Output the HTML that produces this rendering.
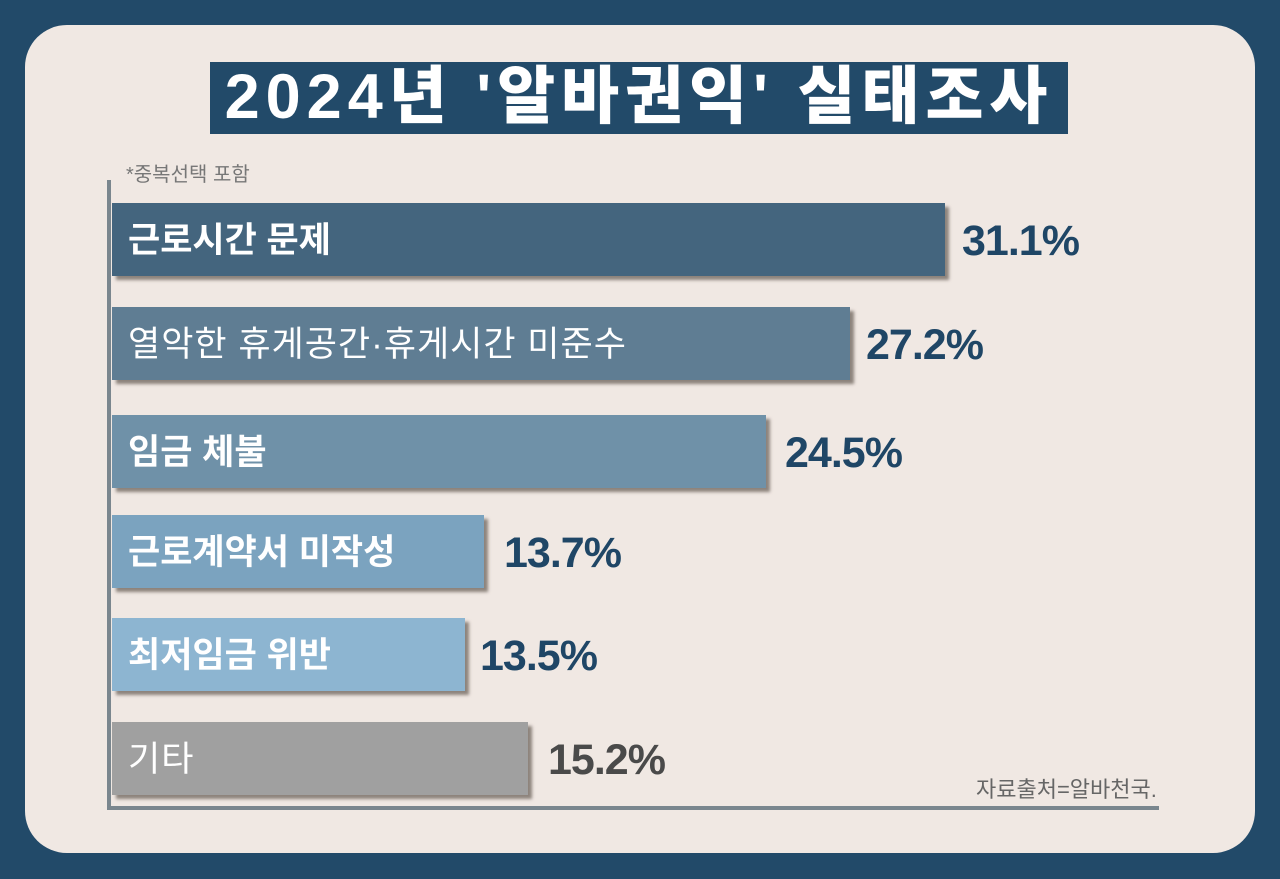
<!DOCTYPE html>
<html><head><meta charset="utf-8"><style>
body{margin:0;width:1280px;height:879px;background:#224a69;position:relative;overflow:hidden;font-family:"Liberation Sans","Noto Sans CJK KR",sans-serif}
.card{position:absolute;left:25px;top:25px;width:1230px;height:828px;background:#f0e8e3;border-radius:42px}
.title{position:absolute;left:210px;top:62px;width:858px;height:72px;background:#224a69;color:#fff;font-weight:900;font-size:63px;line-height:70px;text-align:center;letter-spacing:6px}
.note{position:absolute;left:126px;top:158px;font-size:20px;color:#777}
.vax{position:absolute;left:107px;top:180px;width:4px;height:630px;background:#7a868e}
.hax{position:absolute;left:107px;top:806px;width:1052px;height:4px;background:#7a868e}
.bar{position:absolute;left:112px;height:73px;box-shadow:4px 4px 3px rgba(60,50,40,.55);color:#fff;font-weight:bold;font-size:35px;line-height:76px;padding-left:16px;box-sizing:border-box;white-space:nowrap}
.bar.l{font-weight:normal;font-size:35px;letter-spacing:1px}
.val{position:absolute;font-weight:900;font-size:43px;color:#1f4666;line-height:76px;letter-spacing:-1px}
.src{position:absolute;left:976px;top:772px;font-size:22px;color:#666}
</style></head><body>
<div class="card"></div>
<div class="title">2024년 '알바권익' 실태조사</div>
<div class="note">*중복선택 포함</div>
<div class="vax"></div><div class="hax"></div>
<div class="bar" style="top:203px;width:833px;background:#44657e">근로시간 문제</div>
<div class="val" style="left:962px;top:203px">31.1%</div>
<div class="bar l" style="top:307px;width:738px;background:#5f7d93">열악한 휴게공간·휴게시간 미준수</div>
<div class="val" style="left:866px;top:307px">27.2%</div>
<div class="bar" style="top:415px;width:654px;background:#6f91a8">임금 체불</div>
<div class="val" style="left:785px;top:415px">24.5%</div>
<div class="bar" style="top:515px;width:372px;background:#7ba3bf">근로계약서 미작성</div>
<div class="val" style="left:504px;top:515px">13.7%</div>
<div class="bar" style="top:618px;width:353px;background:#8db5d1">최저임금 위반</div>
<div class="val" style="left:480px;top:618px">13.5%</div>
<div class="bar l" style="top:722px;width:416px;background:#a0a0a0">기타</div>
<div class="val" style="left:548px;top:722px;color:#4a4a4a">15.2%</div>
<div class="src">자료출처=알바천국.</div>
</body></html>
